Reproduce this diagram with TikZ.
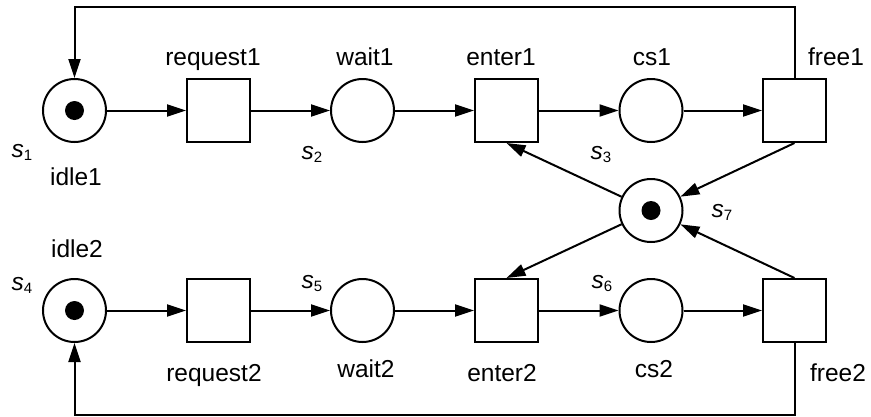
\documentclass[tikz,border=0pt]{standalone}
\usepackage{fontspec}
\setmainfont{Liberation Sans}
\usetikzlibrary{arrows.meta}
\newcommand\slab[2]{\textit{#1}\raisebox{-3pt}{\fontsize{15}{17}\selectfont #2}}
\begin{document}
\begin{tikzpicture}[x=1pt,y=-1pt,
  place/.style={circle,draw,line width=2pt,minimum size=63pt,inner sep=0pt},
  trans/.style={rectangle,draw,line width=2pt,minimum size=63pt,inner sep=0pt},
  arc/.style={line width=2pt,-{Triangle[length=19pt,width=12pt]}},
  lbl/.style={font=\fontsize{24.5}{28}\selectfont,anchor=base,inner sep=0pt},
  slbl/.style={font=\fontsize{24.5}{28}\selectfont,inner sep=0pt},
  token/.style={circle,fill,minimum size=19pt,inner sep=0pt}]
\useasboundingbox (0,0) rectangle (871,416);
% places and transitions, top row
\node[place] (s1) at (74.5,110.5) {};
\node[trans] (request1) at (218.5,110.5) {};
\node[place] (s2) at (362.5,110.5) {};
\node[trans] (enter1) at (506.5,110.5) {};
\node[place] (s3) at (651,110.5) {};
\node[trans] (free1) at (794.5,110.5) {};
% bottom row
\node[place] (s4) at (74.5,310.5) {};
\node[trans] (request2) at (218.5,310.5) {};
\node[place] (s5) at (362.5,310.5) {};
\node[trans] (enter2) at (506.5,310.5) {};
\node[place] (s6) at (651,310.5) {};
\node[trans] (free2) at (794.5,310.5) {};
% mutex
\node[place] (s7) at (651,210.5) {};
% tokens
\node[token] (k1) at (s1) {};
\node[token] (k4) at (s4) {};
\node[token] (k7) at (s7) {};
% arcs
\draw[arc] (s1) -- (request1);
\draw[arc] (request1) -- (s2);
\draw[arc] (s2) -- (enter1);
\draw[arc] (enter1) -- (s3);
\draw[arc] (s3) -- (free1);
\draw[arc] (s4) -- (request2);
\draw[arc] (request2) -- (s5);
\draw[arc] (s5) -- (enter2);
\draw[arc] (enter2) -- (s6);
\draw[arc] (s6) -- (free2);
\draw[arc] (free1.south) -- (s7);
\draw[arc] (s7) -- (enter1.south);
\draw[arc] (s7) -- (enter2.north);
\draw[arc] (free2.north) -- (s7);
\draw[arc] (free1.north) -- ++(0,-71.5) -| (s1.north);
\draw[arc] (free2.south) -- ++(0,71.5) -| (s4.south);
% labels
\node[lbl] (l1) at (213,65) {request1};
\node[lbl] (l2) at (365,65) {wait1};
\node[lbl] (l3) at (501,65) {enter1};
\node[lbl] (l4) at (652,65) {cs1};
\node[lbl] (l5) at (836,65) {free1};
\node[lbl] (l6) at (76,185) {idle1};
\node[lbl] (l7) at (77,257) {idle2};
\node[lbl] (l8) at (214,381) {request2};
\node[lbl] (l9) at (366,377) {wait2};
\node[lbl] (l10) at (502,381) {enter2};
\node[lbl] (l11) at (654,377) {cs2};
\node[lbl] (l12) at (838,381) {free2};
% place names
\node[slbl] (n1) at (22,152) {\slab{s}{1}};
\node[slbl] (n2) at (312,154) {\slab{s}{2}};
\node[slbl] (n3) at (601,154) {\slab{s}{3}};
\node[slbl] (n4) at (22,285) {\slab{s}{4}};
\node[slbl] (n5) at (312,283) {\slab{s}{5}};
\node[slbl] (n6) at (602,283) {\slab{s}{6}};
\node[slbl] (n7) at (722,212) {\slab{s}{7}};
\end{tikzpicture}
\end{document}
